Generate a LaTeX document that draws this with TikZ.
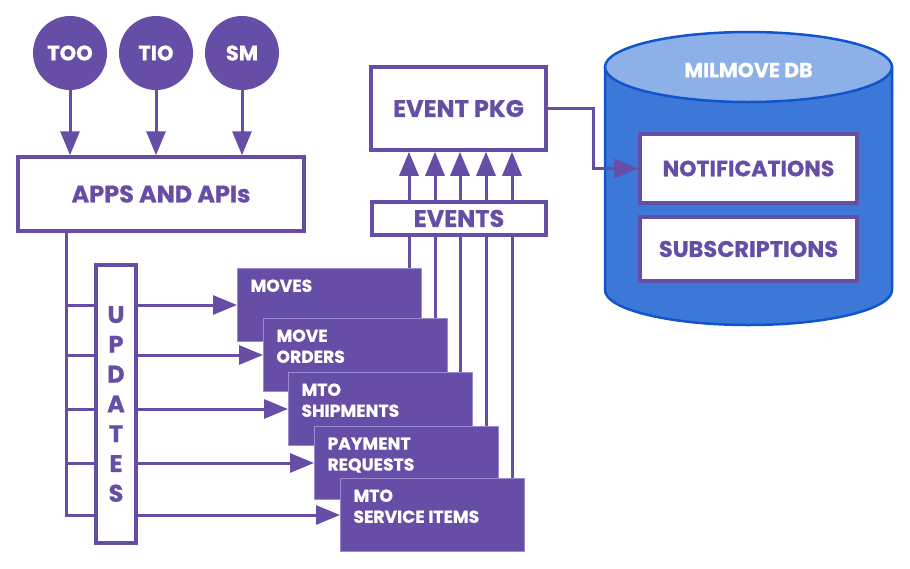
\documentclass[tikz,border=0pt]{standalone}
\usepackage{fontspec}
\setmainfont{Poppins}[BoldFeatures={FakeBold=0.7}]
\usetikzlibrary{arrows.meta,calc}
\definecolor{pur}{HTML}{664EA6}
\definecolor{purl}{HTML}{9B8ACF}
\definecolor{dbb}{HTML}{3C78D8}
\definecolor{dbt}{HTML}{8DB0E8}
\definecolor{dbe}{HTML}{1155CC}
\begin{document}
\begin{tikzpicture}[x=1pt,y=-1pt,
 ln/.style={draw=pur, line width=3pt},
 ar/.style={ln, -{Triangle[length=24pt,width=19pt]}},
 actor/.style={circle, fill=pur, minimum size=74pt, inner sep=0pt, text=white, font=\bfseries\fontsize{21}{22}\selectfont},
 wbox/.style={draw=pur, line width=3.5pt, fill=white, text=pur, inner sep=0pt, font=\bfseries\fontsize{24}{26}\selectfont},
 pbox/.style={fill=pur, draw=purl, line width=1pt, text=white, anchor=north west, inner xsep=13pt, inner ysep=11pt, font=\bfseries\fontsize{17.2}{21}\selectfont},
]
\useasboundingbox (0,0) rectangle (910,568);

% actors
\node[actor] (too) at (70,53) {TOO};
\node[actor] (tio) at (156,53) {TIO};
\node[actor] (sm) at (242,53) {SM};
\node[wbox, minimum width=286pt, minimum height=74pt] (apps) at (161,194) {APPS AND APIs};
\draw[ar] (too) -- (too |- apps.north);
\draw[ar] (tio) -- (tio |- apps.north);
\draw[ar] (sm) -- (sm |- apps.north);

% purple boxes
\node[pbox] (b1) at (237,268) {\parbox[t][51pt][t]{158pt}{MOVES}};
\node[pbox] (b2) at (263,318) {\parbox[t][51pt][t]{158pt}{MOVE\\ORDERS}};
\node[pbox] (b3) at (288,372) {\parbox[t][51pt][t]{158pt}{MTO\\SHIPMENTS}};
\node[pbox] (b4) at (314,426) {\parbox[t][51pt][t]{158pt}{PAYMENT\\REQUESTS}};
\node[pbox] (b5) at (340,478) {\parbox[t][51pt][t]{158pt}{MTO\\SERVICE ITEMS}};

% updates
\coordinate (trunk) at ([xshift=50pt]apps.south west);
\draw[ar] (trunk) |- (b5.west);
\foreach \b in {b1,b2,b3,b4} \draw[ar] (\b.west -| trunk) -- (\b.west);
\node[wbox, minimum width=40pt, minimum height=278pt, align=center, font=\bfseries\fontsize{24}{29.8}\selectfont] (upd) at (116,404) {\raisebox{-3pt}{U}\\\raisebox{-3pt}{P}\\\raisebox{-3pt}{D}\\\raisebox{-3pt}{A}\\\raisebox{-3pt}{T}\\\raisebox{-3pt}{E}\\\raisebox{-3pt}{S}};

% event package
\node[wbox, minimum width=175pt, minimum height=83pt, font=\bfseries\fontsize{24}{26}\selectfont] (pkg) at (458.5,108.5) {EVENT PKG};
\foreach \b [count=\i] in {b1,b2,b3,b4,b5} {
  \coordinate (e\i) at ([xshift=172pt]\b.north west);
  \draw[ar] (e\i) -- (e\i |- pkg.south);
}
\node[wbox, minimum width=174pt, minimum height=33pt, font=\bfseries\fontsize{24}{26}\selectfont] (ev) at (459,218.5) {EVENTS};

% database
\filldraw[fill=dbb, draw=dbe, line width=2.5pt] (605,67) -- (605,290) arc[start angle=180, end angle=0, x radius=143.5, y radius=35] -- (892,67) -- cycle;
\filldraw[fill=dbt, draw=dbe, line width=2.5pt] (748.5,67) ellipse[x radius=143.5, y radius=35];
\node[text=white, font=\bfseries\fontsize{20.5}{22}\selectfont] (dbl) at (748.5,70) {MILMOVE DB};
\node[wbox, minimum width=217pt, minimum height=69pt, font=\bfseries\fontsize{22}{24}\selectfont] (notif) at (748.5,168.5) {NOTIFICATIONS};
\node[wbox, minimum width=217pt, minimum height=64pt, font=\bfseries\fontsize{22.5}{24}\selectfont] (subs) at (748.5,249) {SUBSCRIPTIONS};
\draw[ar] (pkg.east) -- ++(46,0) |- (notif.west);
\end{tikzpicture}
\end{document}
